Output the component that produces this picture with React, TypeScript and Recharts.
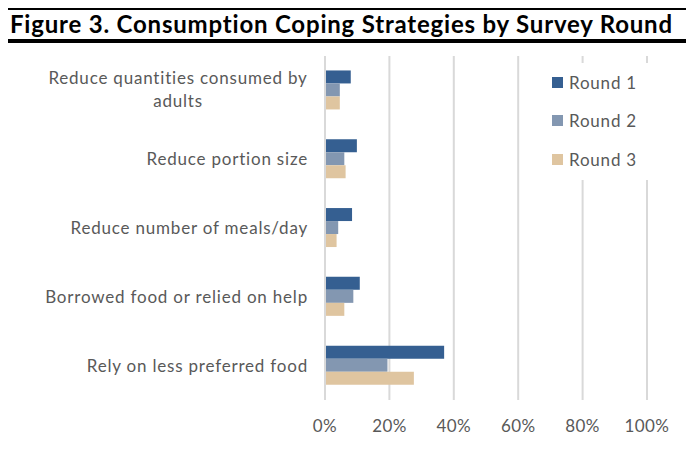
import React from 'react';
import { BarChart, Bar, XAxis, YAxis, CartesianGrid, Legend } from 'recharts';

const categories = [
  'Reduce quantities consumed by adults',
  'Reduce portion size',
  'Reduce number of meals/day',
  'Borrowed food or relied on help',
  'Rely on less preferred food',
];
const round1 = [8.0, 9.9, 8.4, 10.8, 37.0];
const round2 = [4.6, 6.0, 4.1, 8.8, 19.4];
const round3 = [4.6, 6.4, 3.6, 6.0, 27.6];
const xTicks = [0, 20, 40, 60, 80, 100];

const COLORS = {
  r1: '#355f91',
  r2: '#8397b1',
  r3: '#dfc5a0',
};

const FONT = 'Lato, "Open Sans", sans-serif';
const TEXT = '#595959';
const LABEL_SIZE = 17;
const LABEL_SPACING = 0.8;

const data = categories.map((name, i) => ({
  name,
  r1: round1[i],
  r2: round2[i],
  r3: round3[i],
}));

const CategoryTick = (props: any) => {
  const { x, y, payload } = props;
  const label: string = payload.value;
  const common = { fill: TEXT, fontSize: LABEL_SIZE, fontFamily: FONT, letterSpacing: LABEL_SPACING };
  if (label === 'Reduce quantities consumed by adults') {
    // wrapped label, both lines centred like Excel does
    return (
      <text {...common} textAnchor="middle">
        <tspan x={x - 139} y={y - 6}>Reduce quantities consumed by</tspan>
        <tspan x={x - 139} y={y + 17}>adults</tspan>
      </text>
    );
  }
  return (
    <text x={x - 9} y={y + 6} {...common} textAnchor="end">
      {label}
    </text>
  );
};

const LegendBox = (props: any) => {
  const { payload } = props;
  return (
    <div style={{ background: '#fff', width: 130, height: 117, boxSizing: 'border-box' }}>
      {payload.map((p: any) => (
        <div key={p.value} style={{ display: 'flex', alignItems: 'center', height: 38.5, paddingLeft: 22 }}>
          <span style={{ width: 11, height: 11, background: p.color, display: 'inline-block', marginRight: 6 }} />
          <span style={{ color: TEXT, fontSize: LABEL_SIZE, fontFamily: FONT, letterSpacing: LABEL_SPACING }}>{p.value}</span>
        </div>
      ))}
    </div>
  );
};

export default function App() {
  return (
    <div style={{ position: 'relative', width: 694, height: 457, margin: -8, background: '#fff', overflow: 'hidden' }}>
      <div style={{ position: 'absolute', left: 0, top: 7, width: 694, height: 3, background: '#000' }} />
      <div style={{ position: 'absolute', left: 0, top: 38.5, width: 694, height: 4, background: '#000' }} />
      <div
        style={{
          position: 'absolute',
          left: 10,
          top: 10,
          height: 28,
          lineHeight: '28px',
          fontFamily: FONT,
          fontWeight: 700,
          fontSize: 24,
          letterSpacing: 0.8,
          color: '#000',
          whiteSpace: 'nowrap',
        }}
      >
        Figure 3. Consumption Coping Strategies by Survey Round
      </div>
      <div style={{ position: 'absolute', left: 0, top: 0 }}>
        <BarChart
          width={694}
          height={457}
          data={data}
          layout="vertical"
          margin={{ top: 56, right: 47, bottom: 27, left: 0 }}
          barCategoryGap="21%"
          barGap={0}
        >
          <CartesianGrid horizontal={false} stroke="#d9d9d9" strokeWidth={2} />
          <XAxis
            type="number"
            domain={[0, 100]}
            ticks={xTicks}
            tickFormatter={(v: number) => `${v}%`}
            axisLine={false}
            tickLine={false}
            height={30}
            tick={{ fill: TEXT, fontSize: LABEL_SIZE, fontFamily: FONT, letterSpacing: 0.4 }}
            tickMargin={14}
          />
          <YAxis
            type="category"
            dataKey="name"
            width={325}
            axisLine={{ stroke: '#d9d9d9', strokeWidth: 2 }}
            tickLine={false}
            tick={<CategoryTick />}
            interval={0}
          />
          <Legend
            layout="horizontal"
            verticalAlign="middle"
            align="center"
            wrapperStyle={{ top: 63, left: 530, width: 130, height: 117 }}
            content={<LegendBox />}
          />
          <Bar dataKey="r1" name="Round 1" fill={COLORS.r1} isAnimationActive={false} />
          <Bar dataKey="r2" name="Round 2" fill={COLORS.r2} isAnimationActive={false} />
          <Bar dataKey="r3" name="Round 3" fill={COLORS.r3} isAnimationActive={false} />
        </BarChart>
      </div>
    </div>
  );
}
